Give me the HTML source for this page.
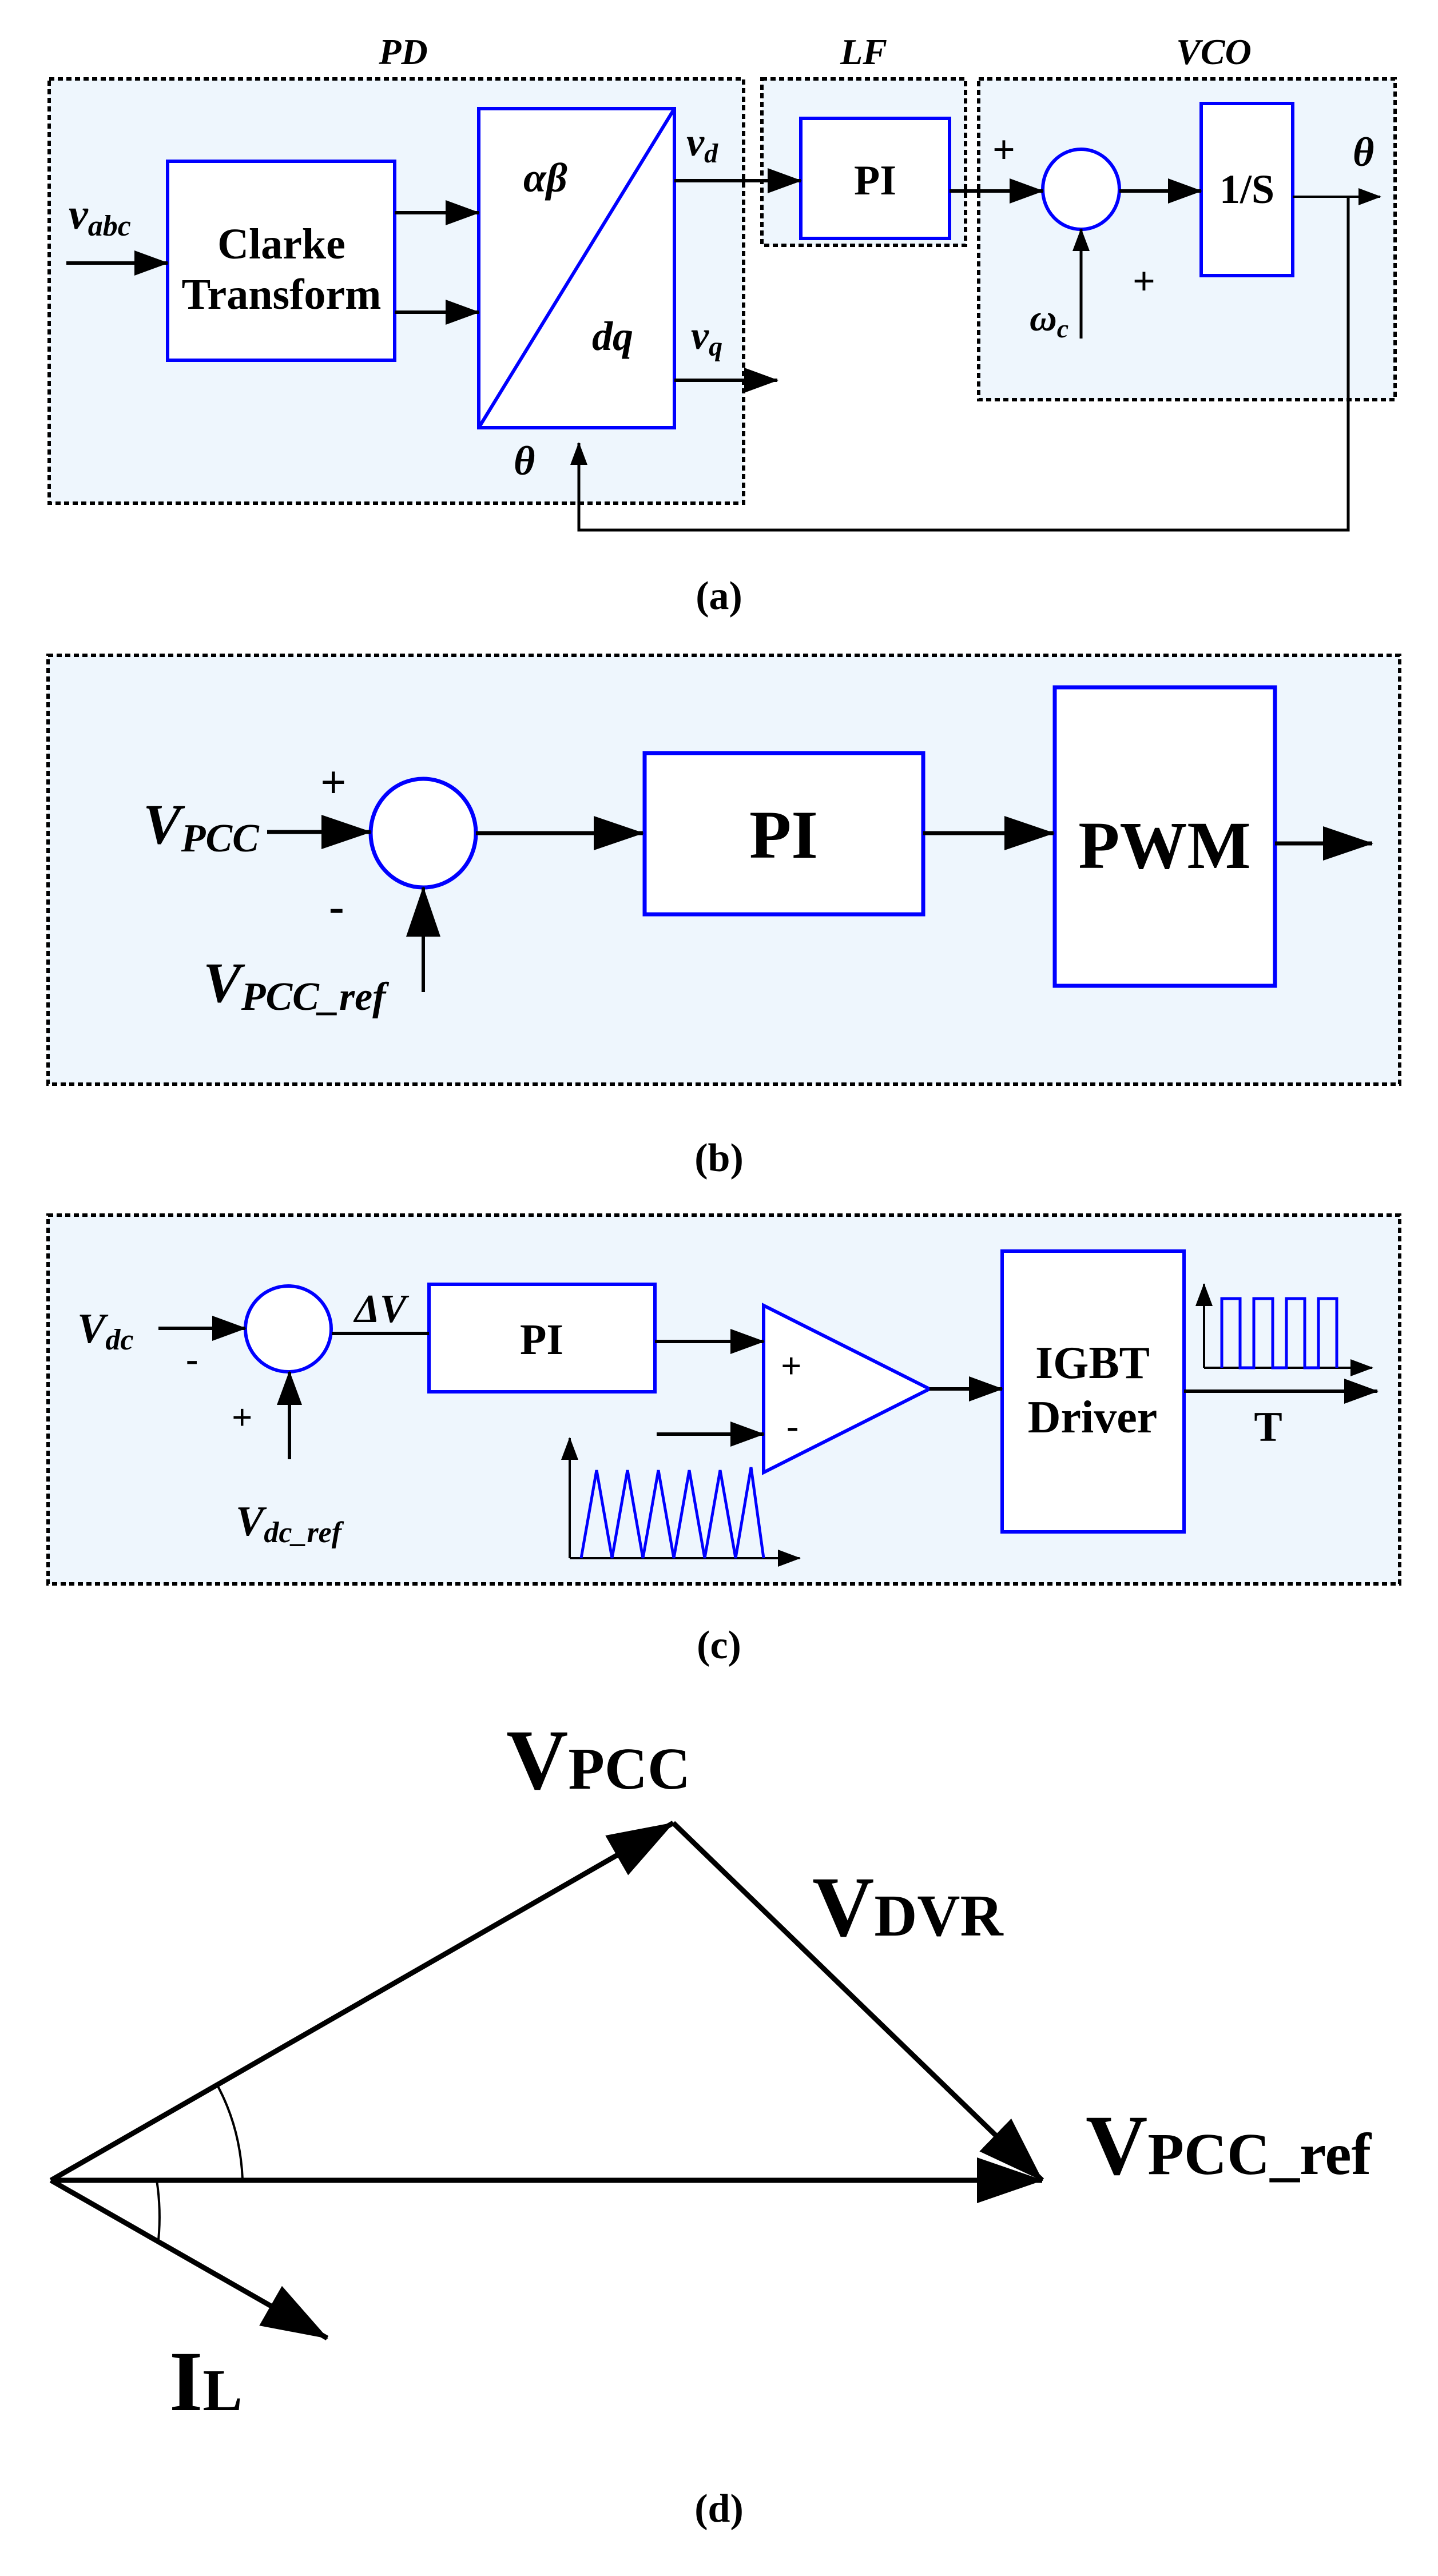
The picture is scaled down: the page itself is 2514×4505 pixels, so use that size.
<!DOCTYPE html>
<html><head><meta charset="utf-8"><style>
html,body{margin:0;padding:0;background:#fff;}
svg{display:block;}
text{font-family:"Liberation Serif",serif;font-weight:bold;fill:#000;}
.it{font-style:italic;}
</style></head><body>
<svg width="2514" height="4505" viewBox="0 0 2514 4505" xmlns="http://www.w3.org/2000/svg">
<defs>
<marker id="ah" markerUnits="userSpaceOnUse" markerWidth="64" markerHeight="50" refX="58" refY="22" orient="auto">
<path d="M0,0 L60,22 L0,44 z" fill="#000"/></marker>
<marker id="as" markerUnits="userSpaceOnUse" markerWidth="44" markerHeight="34" refX="38" refY="15" orient="auto">
<path d="M0,0 L40,15 L0,30 z" fill="#000"/></marker>
<marker id="ab" markerUnits="userSpaceOnUse" markerWidth="90" markerHeight="70" refX="86" refY="30" orient="auto">
<path d="M0,0 L88,30 L0,60 z" fill="#000"/></marker>
<marker id="ad" markerUnits="userSpaceOnUse" markerWidth="120" markerHeight="90" refX="114" refY="40" orient="auto">
<path d="M0,0 L116,40 L0,80 z" fill="#000"/></marker>
</defs>
<g fill="#eef6fd" stroke="#000" stroke-width="6" stroke-dasharray="9 6">
<rect x="86" y="138" width="1214" height="742"/>
<rect x="1332" y="138" width="356" height="291"/>
<rect x="1711" y="138" width="728" height="561"/>
<rect x="84" y="1146" width="2363" height="750"/>
<rect x="84" y="2125" width="2363" height="645"/>
</g>
<!-- (a) -->
<g font-size="64" class="it" text-anchor="middle">
<text x="705" y="112" class="it">PD</text>
<text x="1510" y="112" class="it">LF</text>
<text x="2122" y="112" class="it">VCO</text>
</g>
<g fill="#fff" stroke="#0000ff" stroke-width="6">
<rect x="293" y="282" width="397" height="348"/>
<rect x="837" y="190" width="342" height="558"/>
<rect x="1400" y="207" width="260" height="210"/>
<rect x="2100" y="181" width="160" height="301"/>
<ellipse cx="1890" cy="331" rx="67" ry="70"/>
</g>
<line x1="837" y1="748" x2="1179" y2="190" stroke="#0000ff" stroke-width="6"/>
<g stroke="#000" stroke-width="6" fill="none">
<line x1="116" y1="460" x2="293" y2="460" marker-end="url(#ah)"/>
<line x1="690" y1="372" x2="837" y2="372" marker-end="url(#ah)"/>
<line x1="690" y1="546" x2="837" y2="546" marker-end="url(#ah)"/>
<line x1="1179" y1="316" x2="1400" y2="316" marker-end="url(#ah)"/>
<line x1="1179" y1="665" x2="1359" y2="665" marker-end="url(#ah)"/>
<line x1="1660" y1="334" x2="1823" y2="334" marker-end="url(#ah)"/>
<line x1="1957" y1="334" x2="2100" y2="334" marker-end="url(#ah)"/>
<line x1="1890" y1="592" x2="1890" y2="401" stroke-width="5" marker-end="url(#as)"/>
<line x1="2260" y1="344" x2="2413" y2="344" stroke-width="4" marker-end="url(#as)"/>
<polyline points="2357,344 2357,927 1012,927 1012,775" stroke-width="5" marker-end="url(#as)"/>
</g>
<text x="492" y="452" font-size="76" text-anchor="middle">Clarke</text>
<text x="492" y="540" font-size="76" text-anchor="middle">Transform</text>
<text x="1530" y="340" font-size="74" text-anchor="middle">PI</text>
<text x="2180" y="355" font-size="72" text-anchor="middle">1/S</text>
<text x="120" y="400" font-size="76" class="it">v<tspan font-size="52" dy="12">abc</tspan></text>
<text x="915" y="335" font-size="72" class="it">αβ</text>
<text x="1035" y="612" font-size="72" class="it">dq</text>
<text x="1200" y="272" font-size="70" class="it">v<tspan font-size="48" dy="12">d</tspan></text>
<text x="1208" y="610" font-size="70" class="it">v<tspan font-size="48" dy="12">q</tspan></text>
<text x="898" y="830" font-size="72" class="it">θ</text>
<text x="2365" y="290" font-size="72" class="it">θ</text>
<text x="1735" y="285" font-size="70">+</text>
<text x="1980" y="515" font-size="70">+</text>
<text x="1800" y="578" font-size="66" class="it">ω<tspan font-size="46" dy="12">c</tspan></text>
<text x="1257" y="1065" font-size="70" text-anchor="middle" font-weight="normal">(<tspan font-weight="bold">a</tspan>)</text>
<!-- (b) -->
<g fill="#fff" stroke="#0000ff" stroke-width="7">
<ellipse cx="740" cy="1457" rx="92" ry="95"/>
<rect x="1127" y="1317" width="487" height="282"/>
<rect x="1844" y="1202" width="385" height="522"/>
</g>
<g stroke="#000" stroke-width="7" fill="none">
<line x1="467" y1="1455" x2="648" y2="1455" marker-end="url(#ab)"/>
<line x1="740" y1="1735" x2="740" y2="1552" stroke-width="6" marker-end="url(#ab)"/>
<line x1="832" y1="1457" x2="1124" y2="1457" marker-end="url(#ab)"/>
<line x1="1614" y1="1457" x2="1842" y2="1457" marker-end="url(#ab)"/>
<line x1="2229" y1="1475" x2="2399" y2="1475" marker-end="url(#ab)"/>
</g>
<text x="1370" y="1500" font-size="120" text-anchor="middle">PI</text>
<text x="2036" y="1518" font-size="118" text-anchor="middle">PWM</text>
<text x="250" y="1475" font-size="100" class="it">V<tspan font-size="70" dy="14">PCC</tspan></text>
<text x="355" y="1752" font-size="100" class="it">V<tspan font-size="70" dy="14">PCC_ref</tspan></text>
<text x="560" y="1395" font-size="80">+</text>
<text x="575" y="1612" font-size="80">-</text>
<text x="1257" y="2048" font-size="70" text-anchor="middle" font-weight="normal">(<tspan font-weight="bold">b</tspan>)</text>
<!-- (c) -->
<g fill="#fff" stroke="#0000ff" stroke-width="6">
<ellipse cx="504" cy="2324" rx="75" ry="75"/>
<rect x="750" y="2246" width="395" height="188"/>
<rect x="1752" y="2188" width="318" height="491"/>
<polygon points="1335,2283 1625,2429 1335,2575"/>
</g>
<g stroke="#000" stroke-width="6" fill="none">
<line x1="277" y1="2323" x2="429" y2="2323" marker-end="url(#ah)"/>
<line x1="506" y1="2552" x2="506" y2="2399" marker-end="url(#ah)"/>
<line x1="580" y1="2332" x2="750" y2="2332"/>
<line x1="1145" y1="2346" x2="1335" y2="2346" marker-end="url(#ah)"/>
<line x1="1148" y1="2508" x2="1335" y2="2508" marker-end="url(#ah)"/>
<line x1="1625" y1="2429" x2="1752" y2="2429" marker-end="url(#ah)"/>
<line x1="2070" y1="2433" x2="2408" y2="2433" marker-end="url(#ah)"/>
<line x1="996" y1="2725" x2="1398" y2="2725" stroke-width="4" marker-end="url(#as)"/>
<line x1="996" y1="2725" x2="996" y2="2515" stroke-width="4" marker-end="url(#as)"/>
<line x1="2105" y1="2392" x2="2399" y2="2392" stroke-width="4" marker-end="url(#as)"/>
<line x1="2105" y1="2392" x2="2105" y2="2246" stroke-width="4" marker-end="url(#as)"/>
</g>
<polyline fill="none" stroke="#0000ff" stroke-width="5" points="1016,2725 1043,2571 1070,2725 1097,2571 1124,2725 1151,2571 1178,2725 1205,2571 1232,2725 1259,2571 1286,2725 1313,2566 1335,2725"/>
<polyline fill="none" stroke="#0000ff" stroke-width="5" points="2136,2392 2136,2271 2168,2271 2168,2392 2192,2392 2192,2271 2225,2271 2225,2392 2249,2392 2249,2271 2281,2271 2281,2392 2305,2392 2305,2271 2337,2271 2337,2392"/>
<text x="947" y="2368" font-size="76" text-anchor="middle">PI</text>
<text x="1910" y="2410" font-size="80" text-anchor="middle">IGBT</text>
<text x="1910" y="2505" font-size="80" text-anchor="middle">Driver</text>
<text x="2217" y="2520" font-size="74" text-anchor="middle">T</text>
<text x="1365" y="2410" font-size="64">+</text>
<text x="1375" y="2515" font-size="64">-</text>
<text x="135" y="2348" font-size="74" class="it">V<tspan font-size="52" dy="12">dc</tspan></text>
<text x="620" y="2312" font-size="70" class="it">ΔV</text>
<text x="412" y="2685" font-size="74" class="it">V<tspan font-size="52" dy="12">dc_ref</tspan></text>
<text x="325" y="2398" font-size="64">-</text>
<text x="405" y="2500" font-size="64" font-weight="normal">+</text>
<text x="1257" y="2900" font-size="70" text-anchor="middle" font-weight="normal">(<tspan font-weight="bold">c</tspan>)</text>
<!-- (d) -->
<g stroke="#000" stroke-width="9" fill="none">
<line x1="89" y1="3813" x2="1177" y2="3188" marker-end="url(#ad)"/>
<line x1="1177" y1="3188" x2="1822" y2="3813" marker-end="url(#ad)"/>
<line x1="89" y1="3813" x2="1822" y2="3813" marker-end="url(#ad)"/>
<line x1="89" y1="3813" x2="572" y2="4089" marker-end="url(#ad)"/>
</g>
<g stroke="#000" stroke-width="4" fill="none">
<path d="M379,3645 Q420,3720 424,3811"/>
<path d="M274,3813 Q282,3865 277,3917"/>
</g>
<text x="885" y="3128" font-size="150">V<tspan font-size="104">PCC</tspan></text>
<text x="1420" y="3385" font-size="150">V<tspan font-size="104">DVR</tspan></text>
<text x="1898" y="3802" font-size="150">V<tspan font-size="104">PCC_ref</tspan></text>
<text x="296" y="4215" font-size="150">I<tspan font-size="104">L</tspan></text>
<text x="1257" y="4410" font-size="70" text-anchor="middle" font-weight="normal">(<tspan font-weight="bold">d</tspan>)</text>
</svg>
</body></html>
